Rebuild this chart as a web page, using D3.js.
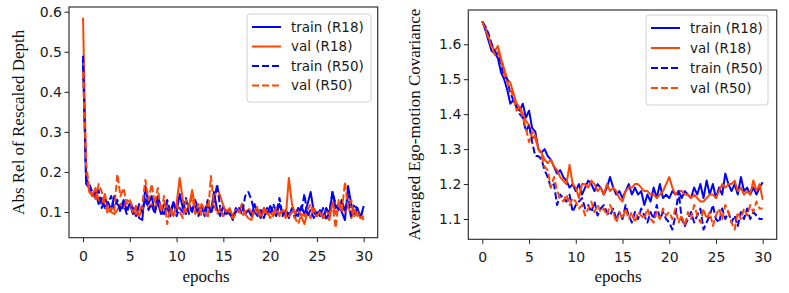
<!DOCTYPE html>
<html>
<head>
<meta charset="utf-8">
<script src="https://cdn.jsdelivr.net/npm/d3@7"></script>
<style>
body { margin: 0; background: #fff; }
svg { display: block; }
</style>
</head>
<body>
<svg id="chart" width="789" height="293"></svg>
<script>
// epochs sampled every third of an epoch, 0..30
const epochs = d3.range(91).map(i => i / 3);
const xTicks = [0, 5, 10, 15, 20, 25, 30];
const seriesNames = ["train (R18)", "val (R18)", "train (R50)", "val (R50)"];

// left panel: Abs Rel of Rescaled Depth
const depthTicks = [0.1, 0.2, 0.3, 0.4, 0.5, 0.6];
const depthTrainR18 = [
    0.48, 0.17, 0.16, 0.14, 0.15, 0.12, 0.135, 0.11, 0.125, 0.105,
    0.14, 0.12, 0.11, 0.13, 0.105, 0.12, 0.095, 0.115, 0.085, 0.08,
    0.165, 0.12, 0.14, 0.1, 0.125, 0.095, 0.12, 0.11, 0.09, 0.125,
    0.1, 0.145, 0.11, 0.095, 0.12, 0.1, 0.13, 0.105, 0.115, 0.09,
    0.12, 0.1, 0.15, 0.105, 0.09, 0.115, 0.095, 0.105, 0.08, 0.11,
    0.1, 0.12, 0.095, 0.105, 0.09, 0.12, 0.1, 0.085, 0.11, 0.095,
    0.115, 0.1, 0.09, 0.12, 0.095, 0.105, 0.085, 0.11, 0.1, 0.09,
    0.115, 0.095, 0.12, 0.15, 0.1, 0.09, 0.105, 0.085, 0.11, 0.095,
    0.15, 0.11, 0.12, 0.1, 0.08, 0.165, 0.12, 0.095, 0.11, 0.085,
    0.115
];
const depthValR18 = [
    0.585, 0.2, 0.15, 0.14, 0.16, 0.13, 0.12, 0.145, 0.11, 0.1,
    0.095, 0.105, 0.12, 0.11, 0.13, 0.125, 0.1, 0.115, 0.09, 0.105,
    0.13, 0.11, 0.12, 0.1, 0.14, 0.11, 0.095, 0.12, 0.1, 0.09,
    0.12, 0.185, 0.13, 0.1, 0.115, 0.155, 0.11, 0.095, 0.12, 0.105,
    0.125, 0.1, 0.13, 0.16, 0.14, 0.115, 0.1, 0.11, 0.09, 0.105,
    0.1, 0.12, 0.095, 0.085, 0.08, 0.105, 0.1, 0.09, 0.11, 0.095,
    0.1, 0.09, 0.11, 0.095, 0.105, 0.085, 0.185, 0.12, 0.095, 0.11,
    0.09, 0.07, 0.1, 0.085, 0.11, 0.095, 0.1, 0.085, 0.09, 0.08,
    0.125, 0.095, 0.11, 0.13, 0.1, 0.12, 0.085, 0.105, 0.09, 0.095,
    0.08
];
const depthTrainR50 = [
    0.49, 0.18, 0.17, 0.15, 0.135, 0.155, 0.11, 0.13, 0.12, 0.14,
    0.11, 0.13, 0.1, 0.12, 0.095, 0.125, 0.11, 0.09, 0.12, 0.1,
    0.135, 0.105, 0.12, 0.095, 0.14, 0.11, 0.09, 0.13, 0.1, 0.125,
    0.09, 0.11, 0.1, 0.135, 0.095, 0.11, 0.12, 0.09, 0.105, 0.1,
    0.13, 0.095, 0.12, 0.17, 0.11, 0.09, 0.105, 0.095, 0.085, 0.1,
    0.11, 0.095, 0.14, 0.15, 0.13, 0.1, 0.09, 0.105, 0.085, 0.11,
    0.095, 0.12, 0.1, 0.135, 0.09, 0.105, 0.095, 0.1, 0.085, 0.11,
    0.1, 0.145, 0.09, 0.105, 0.085, 0.1, 0.09, 0.11, 0.08, 0.1,
    0.15, 0.12, 0.105, 0.13, 0.1, 0.14, 0.09, 0.12, 0.105, 0.09,
    0.11
];
const depthValR50 = [
    0.45, 0.22, 0.16, 0.145, 0.13, 0.17, 0.15, 0.12, 0.095, 0.11,
    0.1, 0.195, 0.14, 0.16, 0.12, 0.13, 0.11, 0.095, 0.1, 0.12,
    0.18, 0.13, 0.17, 0.12, 0.16, 0.1, 0.14, 0.07, 0.11, 0.09,
    0.12, 0.1, 0.085, 0.13, 0.11, 0.14, 0.095, 0.12, 0.09, 0.1,
    0.085, 0.19, 0.12, 0.095, 0.11, 0.09, 0.105, 0.1, 0.085, 0.095,
    0.105, 0.09, 0.1, 0.11, 0.1, 0.095, 0.115, 0.09, 0.1, 0.105,
    0.085, 0.1, 0.11, 0.09, 0.105, 0.1, 0.09, 0.1, 0.085, 0.07,
    0.095, 0.09, 0.105, 0.12, 0.095, 0.09, 0.1, 0.085, 0.1, 0.095,
    0.12, 0.06, 0.13, 0.1, 0.175, 0.11, 0.13, 0.09, 0.1, 0.085,
    0.09
];

// right panel: Averaged Ego-motion Covariance
const covTicks = [1.1, 1.2, 1.3, 1.4, 1.5, 1.6];
const covTrainR18 = [
    1.665, 1.64, 1.61, 1.58, 1.575, 1.56, 1.52, 1.5, 1.47, 1.43,
    1.44, 1.42, 1.41, 1.43, 1.39, 1.41, 1.36, 1.35, 1.3, 1.29,
    1.3, 1.28, 1.27, 1.25, 1.23, 1.24, 1.22, 1.21, 1.19, 1.2,
    1.18, 1.2, 1.17, 1.19, 1.21, 1.2, 1.18, 1.2, 1.19, 1.17,
    1.19, 1.22, 1.19, 1.17, 1.18, 1.16, 1.18, 1.2, 1.17, 1.19,
    1.17, 1.18, 1.14, 1.17, 1.15, 1.19, 1.16, 1.2, 1.16, 1.17,
    1.16, 1.18, 1.17, 1.18, 1.16, 1.18, 1.17, 1.16, 1.19, 1.17,
    1.2, 1.16, 1.21, 1.17, 1.2, 1.16, 1.19, 1.17, 1.23, 1.2,
    1.18, 1.2, 1.17, 1.22, 1.18, 1.19, 1.17, 1.19, 1.17, 1.19,
    1.205
];
const covValR18 = [
    1.665, 1.65, 1.62, 1.6, 1.58, 1.595, 1.56, 1.53, 1.5, 1.49,
    1.46, 1.43, 1.42, 1.4, 1.38, 1.37, 1.33, 1.34, 1.3, 1.29,
    1.27, 1.26, 1.27, 1.25, 1.24, 1.22, 1.21, 1.2, 1.255, 1.2,
    1.19, 1.16, 1.2, 1.2, 1.19, 1.21, 1.2, 1.18, 1.19, 1.17,
    1.2, 1.18, 1.19, 1.18, 1.16, 1.15, 1.18, 1.19, 1.19, 1.2,
    1.2, 1.19, 1.18, 1.18, 1.17, 1.17, 1.16, 1.17, 1.18, 1.2,
    1.22, 1.19, 1.17, 1.18, 1.18, 1.17, 1.17, 1.16, 1.17, 1.16,
    1.15, 1.15, 1.16, 1.17, 1.17, 1.16, 1.18, 1.2, 1.19, 1.2,
    1.2, 1.21, 1.18, 1.19, 1.17, 1.18, 1.17, 1.21, 1.18, 1.2,
    1.155
];
const covTrainR50 = [
    1.665, 1.65, 1.63, 1.6, 1.58, 1.57, 1.54, 1.51, 1.5, 1.46,
    1.44, 1.42, 1.4, 1.39, 1.35, 1.37, 1.32, 1.28, 1.28, 1.27,
    1.24, 1.22, 1.19, 1.2, 1.14, 1.17, 1.16, 1.15, 1.17, 1.12,
    1.14, 1.15, 1.16, 1.13, 1.14, 1.12, 1.15, 1.11, 1.13, 1.14,
    1.12, 1.11, 1.13, 1.1, 1.12, 1.1, 1.14, 1.11, 1.09, 1.12,
    1.1, 1.13, 1.11, 1.09, 1.12, 1.1, 1.14, 1.1, 1.12, 1.1,
    1.09, 1.07, 1.11, 1.18, 1.1, 1.08, 1.1, 1.12, 1.09, 1.11,
    1.13, 1.07, 1.09, 1.11, 1.14, 1.1, 1.09, 1.13, 1.1, 1.12,
    1.09, 1.11, 1.08, 1.12, 1.1, 1.13, 1.1, 1.12, 1.11, 1.1,
    1.1
];
const covValR50 = [
    1.665, 1.64, 1.62, 1.59, 1.57, 1.58, 1.55, 1.52, 1.49, 1.47,
    1.45, 1.41, 1.42, 1.39, 1.36, 1.32, 1.35, 1.33, 1.3, 1.28,
    1.25, 1.24, 1.19, 1.22, 1.18, 1.16, 1.15, 1.17, 1.14, 1.16,
    1.15, 1.13, 1.14, 1.11, 1.13, 1.15, 1.12, 1.14, 1.12, 1.13,
    1.11, 1.14, 1.12, 1.09, 1.12, 1.1, 1.13, 1.1, 1.12, 1.09,
    1.12, 1.11, 1.1, 1.13, 1.1, 1.09, 1.12, 1.1, 1.13, 1.11,
    1.12, 1.1, 1.13, 1.09, 1.11, 1.08, 1.12, 1.1, 1.14, 1.11,
    1.09, 1.13, 1.1, 1.12, 1.08, 1.11, 1.13, 1.1, 1.14, 1.12,
    1.09, 1.07, 1.12, 1.1, 1.13, 1.11, 1.14, 1.12, 1.15, 1.13,
    1.13
];

const colors = ["#0000ff", "#ff4500", "#0000ff", "#ff4500"];
const dashes = [null, null, "7,3", "7,3"];
const tickFont = "'DejaVu Sans', sans-serif";
const labelFont = "'Liberation Serif', 'DejaVu Serif', serif";

const svg = d3.select("#chart");

drawPanel({
    id: "depth",
    left: 69, right: 377.7, top: 7, bottom: 237.7,
    yDomain: [0.0359, 0.6117],
    yTicks: depthTicks,
    series: [depthTrainR18, depthValR18, depthTrainR50, depthValR50],
    yLabel: "Abs Rel of Rescaled Depth",
    yLabelX: 18,
    xLabelX: 206,
    legend: { x: 247, y: 14, w: 124, h: 88 }
});

drawPanel({
    id: "cov",
    left: 468.3, right: 776.7, top: 10, bottom: 239.3,
    yDomain: [1.042, 1.698],
    yTicks: covTicks,
    series: [covTrainR18, covValR18, covTrainR50, covValR50],
    yLabel: "Averaged Ego-motion Covariance",
    yLabelX: 414,
    xLabelX: 618,
    legend: { x: 646, y: 15, w: 122, h: 90 }
});

function drawPanel(cfg) {
    const g = svg.append("g").attr("class", cfg.id);

    const xScale = d3.scaleLinear().domain([-1.5, 31.5]).range([cfg.left, cfg.right]);
    const yScale = d3.scaleLinear().domain(cfg.yDomain).range([cfg.bottom, cfg.top]);

    g.append("clipPath").attr("id", cfg.id + "-clip")
        .append("rect")
        .attr("x", cfg.left).attr("y", cfg.top)
        .attr("width", cfg.right - cfg.left)
        .attr("height", cfg.bottom - cfg.top);

    const line = d3.line()
        .x((d, i) => xScale(epochs[i]))
        .y(d => yScale(d));

    g.append("g")
        .attr("clip-path", `url(#${cfg.id}-clip)`)
        .selectAll("path")
        .data(cfg.series)
        .join("path")
        .attr("d", line)
        .attr("fill", "none")
        .attr("stroke", (d, i) => colors[i])
        .attr("stroke-width", 2)
        .attr("stroke-linejoin", "round")
        .attr("stroke-dasharray", (d, i) => dashes[i]);

    // axes
    const xAxis = g.append("g")
        .attr("transform", `translate(0,${cfg.bottom})`)
        .call(d3.axisBottom(xScale).tickValues(xTicks).tickSize(4.5).tickPadding(8.5).tickFormat(d3.format("d")));
    const yAxis = g.append("g")
        .attr("transform", `translate(${cfg.left},0)`)
        .call(d3.axisLeft(yScale).tickValues(cfg.yTicks).tickSize(4.5).tickPadding(2.5).tickFormat(d3.format(".1f")));

    [xAxis, yAxis].forEach(ax => {
        ax.select(".domain").remove();
        ax.selectAll(".tick line").attr("stroke", "#222").attr("stroke-width", 1);
        ax.selectAll(".tick text")
            .attr("fill", "#1a1a1a")
            .style("font-family", tickFont)
            .style("font-size", "14px");
    });

    // frame
    g.append("rect")
        .attr("x", cfg.left).attr("y", cfg.top)
        .attr("width", cfg.right - cfg.left)
        .attr("height", cfg.bottom - cfg.top)
        .attr("fill", "none")
        .attr("stroke", "#333")
        .attr("stroke-width", 1.2);

    // axis labels
    g.append("text")
        .attr("transform", `translate(${cfg.yLabelX},${(cfg.top + cfg.bottom) / 2}) rotate(-90)`)
        .attr("text-anchor", "middle")
        .attr("dy", "0.35em")
        .style("font-family", labelFont)
        .style("font-size", "17px")
        .attr("fill", "#111")
        .text(cfg.yLabel);

    g.append("text")
        .attr("x", cfg.xLabelX)
        .attr("y", 282)
        .attr("text-anchor", "middle")
        .style("font-family", labelFont)
        .style("font-size", "17px")
        .attr("fill", "#111")
        .text("epochs");

    // legend
    const lg = cfg.legend;
    const legend = g.append("g").attr("transform", `translate(${lg.x},${lg.y})`);
    legend.append("rect")
        .attr("width", lg.w).attr("height", lg.h)
        .attr("rx", 3)
        .attr("fill", "rgba(255,255,255,0.8)")
        .attr("stroke", "#d0d0d0");
    const rowH = (lg.h - 10) / seriesNames.length;
    const items = legend.selectAll(".item")
        .data(seriesNames)
        .join("g")
        .attr("class", "item")
        .attr("transform", (d, i) => `translate(0,${13 + i * rowH})`);
    items.append("line")
        .attr("x1", 5).attr("x2", 34)
        .attr("stroke", (d, i) => colors[i])
        .attr("stroke-width", 2)
        .attr("stroke-dasharray", (d, i) => dashes[i]);
    items.append("text")
        .attr("x", 44)
        .attr("dy", "0.35em")
        .style("font-family", tickFont)
        .style("font-size", "13.5px")
        .attr("fill", "#1a1a1a")
        .text(d => d);
}
</script>
</body>
</html>
